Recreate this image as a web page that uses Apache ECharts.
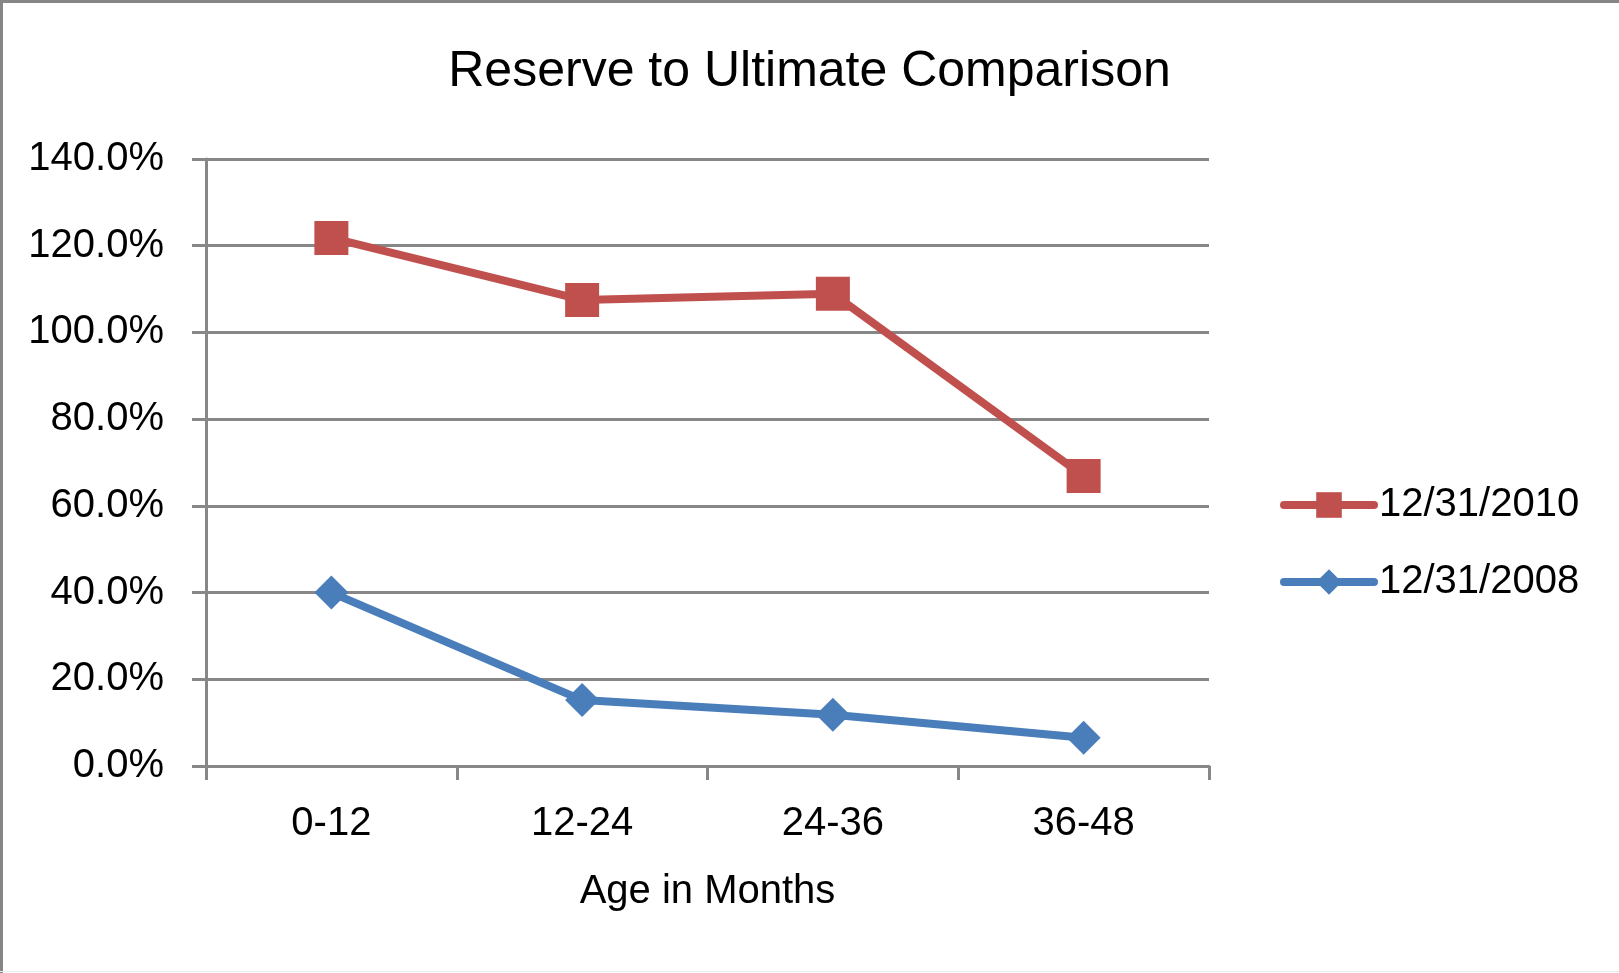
<!DOCTYPE html>
<html>
<head>
<meta charset="utf-8">
<style>
  html, body { margin: 0; padding: 0; background: #fff; }
  #chart { width: 1619px; height: 973px; }
</style>
<script src="https://cdn.jsdelivr.net/npm/echarts@6/dist/echarts.min.js"></script>
</head>
<body>
<div id="chart"></div>
<script>
// Development age buckets
var ageBuckets = ['0-12', '12-24', '24-36', '36-48'];
// Reserve-to-ultimate ratios (%) by valuation date
var reserve2010 = [121.8, 107.5, 108.9, 66.9];
var reserve2008 = [40.0, 15.2, 11.8, 6.5];
var seriesNames = ['12/31/2010', '12/31/2008'];

var FONT = '"Liberation Sans", Arial, sans-serif';
var GRID_GRAY = '#878787';

var chart = echarts.init(document.getElementById('chart'), null, { renderer: 'canvas' });

chart.setOption({
  animation: false,
  backgroundColor: '#ffffff',
  title: {
    text: 'Reserve to Ultimate Comparison',
    left: 'center',
    top: 42,
    textStyle: { fontFamily: FONT, fontSize: 50, fontWeight: 'normal', color: '#000' }
  },
  legend: {
    orient: 'vertical',
    left: 1275,
    top: 480,
    itemWidth: 90,
    itemHeight: 32,
    itemGap: 37,
    lineStyle: { width: 8, cap: 'round' },
    textStyle: { fontFamily: FONT, fontSize: 40, color: '#000' },
    data: [
      { name: seriesNames[0] },
      { name: seriesNames[1] }
    ]
  },
  grid: { left: 206, right: 410, top: 159, bottom: 207, containLabel: false },
  xAxis: {
    type: 'category',
    data: ageBuckets,
    boundaryGap: true,
    name: 'Age in Months',
    nameLocation: 'middle',
    nameGap: 106,
    nameTextStyle: { fontFamily: FONT, fontSize: 40, color: '#000' },
    axisLine: { lineStyle: { color: GRID_GRAY, width: 3 } },
    axisTick: { show: true, length: 14, interval: 0, lineStyle: { color: GRID_GRAY, width: 3 } },
    axisLabel: { fontFamily: FONT, fontSize: 40, color: '#000', margin: 38 }
  },
  yAxis: {
    type: 'value',
    min: 0,
    max: 140,
    interval: 20,
    axisLine: { show: true, lineStyle: { color: GRID_GRAY, width: 3 } },
    axisTick: { show: true, length: 14, lineStyle: { color: GRID_GRAY, width: 3 } },
    axisLabel: {
      fontFamily: FONT, fontSize: 40, color: '#000', margin: 42,
      formatter: function (v) { return v.toFixed(1) + '%'; }
    },
    splitLine: { show: true, lineStyle: { color: GRID_GRAY, width: 3 } }
  },
  series: [
    {
      name: seriesNames[0],
      type: 'line',
      data: reserve2010,
      symbol: 'rect',
      symbolSize: 34,
      lineStyle: { color: '#C0504D', width: 8 },
      itemStyle: { color: '#C0504D' },
      z: 3
    },
    {
      name: seriesNames[1],
      type: 'line',
      data: reserve2008,
      symbol: 'diamond',
      symbolSize: [34, 34],
      lineStyle: { color: '#4A7EBB', width: 8 },
      itemStyle: { color: '#4A7EBB' },
      z: 3
    }
  ],
  graphic: [
    // frame edges along the top and left of the chart area
    { type: 'rect', shape: { x: 0, y: 0, width: 1619, height: 3 }, style: { fill: '#868686' }, silent: true },
    { type: 'rect', shape: { x: 0, y: 0, width: 3, height: 973 }, style: { fill: '#868686' }, silent: true },
    { type: 'rect', shape: { x: 0, y: 971, width: 1619, height: 1 }, style: { fill: '#ececec' }, silent: true }
  ]
});
</script>
</body>
</html>
